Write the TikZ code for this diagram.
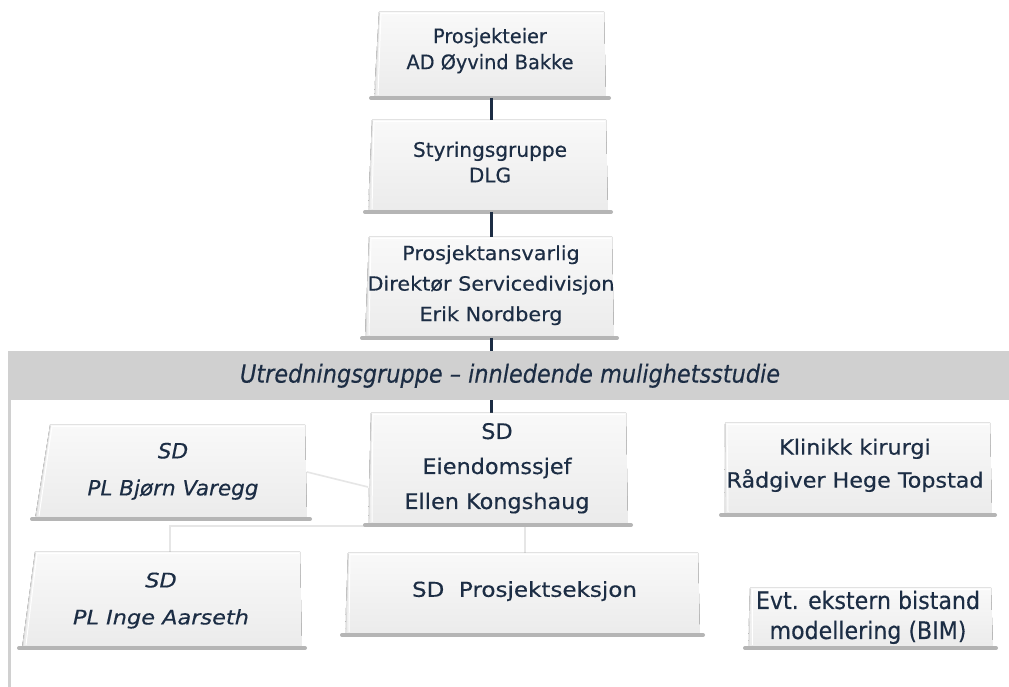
\documentclass[tikz,border=0pt]{standalone}
\usepackage{fontspec}
\usepackage{graphicx}
\setmainfont[FakeBold=0.4]{DejaVu Sans}
\usetikzlibrary{calc}
\definecolor{txt}{HTML}{1C2D44}
\definecolor{bandc}{HTML}{D0D0D0}
\definecolor{boxa}{HTML}{F9F9F9}
\definecolor{boxb}{HTML}{EBEBEB}
\definecolor{shad}{HTML}{B5B5B5}
\definecolor{faint}{HTML}{E6E6E6}
\definecolor{edgec}{HTML}{D8D8D8}
% name, cx, cy, w, h, slant
\newcommand\orgbox[6]{%
  \node[boxnode, minimum width=#4pt, minimum height=#5pt] (#1) at (#2,#3) {};
  \fill[top color=boxa, bottom color=boxb] (#1.south west) -- ($(#1.north west)+(#6,0)$) -- ($(#1.north east)+(-2,0)$) -- (#1.south east) -- cycle;
  \draw[edgec, line width=0.8pt] ($(#1.south west)+(1,2)$) -- ($(#1.north west)+(#6+0.5,-0.5)$);
  \draw[white, line width=1pt] ($(#1.south west)+(4,3)$) -- ($(#1.north west)+(#6+2,-1.5)$) -- ($(#1.north east)+(-3,-1.5)$);
  \draw[shad, line width=4pt, line cap=round] ($(#1.south west)+(-3,0)$) -- ($(#1.south east)+(3,0)$);
}
% width, font setup, lines
\newcommand\fitw[3]{\resizebox{#1}{\height}{#2\begin{tabular}{@{}c@{}}#3\end{tabular}}}
\begin{document}
\begin{tikzpicture}[x=1pt,y=1pt,
  boxnode/.style={inner sep=0pt, outer sep=0pt},
  label/.style={inner sep=0pt, align=center, text=txt},
  link/.style={draw=txt, line width=3pt},
  faintlink/.style={draw=faint, line width=1.6pt}]
\useasboundingbox (0,0) rectangle (1009,687);
\fill[white] (0,0) rectangle (1009,687);
\coordinate (spine) at (491,0);
% band
\node[fill=bandc, minimum width=1001pt, minimum height=49pt, inner sep=0pt] (band) at (508.5,311.5) {};
\coordinate (lft) at (9.5,0);
\draw[bandc, line width=3pt] (band.south west -| lft) -- (lft);
\node[label] (bandt) at (510,310) {\fitw{540pt}{\fontsize{25}{28}\selectfont\itshape}{Utredningsgruppe -- innledende mulighetsstudie}};
\coordinate (fa) at (170,161);
\coordinate (fb) at (525,161);
% boxes
\orgbox{n1}{490}{632}{232}{86}{5}
\orgbox{n2}{488}{521}{240}{92}{4}
\orgbox{n3}{489.5}{399.5}{249}{101}{4}
\draw[link] (n1.south -| spine) -- (n2.north -| spine);
\draw[link] (n2.south -| spine) -- (n3.north -| spine);
\draw[link] (n3.south -| spine) -- (band.north -| spine);
\node[boxnode, minimum width=272pt, minimum height=94pt] (n4) at (171,215) {};
\node[boxnode, minimum width=260pt, minimum height=112pt] (n5) at (498,218) {};
\node[boxnode, minimum width=280pt, minimum height=96pt] (n7) at (162,87) {};
\node[boxnode, minimum width=355pt, minimum height=82pt] (n8) at (522.5,93) {};
\draw[link] (band.south -| spine) -- (n5.north -| spine);
\draw[faintlink] (n4.east) -- ([yshift=-18pt]n5.west);
\draw[faintlink] (n7.north -| fa) -- (fa) -- (fb) -- (n8.north -| fb);
\orgbox{n4}{171}{215}{272}{94}{15}
\orgbox{n5}{498}{218}{260}{112}{3}
\orgbox{n6}{858}{218}{268}{92}{1}
\orgbox{n7}{162}{87}{280}{96}{13}
\orgbox{n8}{522.5}{93}{355}{82}{3}
\orgbox{n9}{870.5}{69}{245}{60}{2}
% labels
\node[label] (n1t) at (490,636) {\fitw{167pt}{\fontsize{20}{26}\selectfont}{Prosjekteier\\AD Øyvind Bakke}};
\node[label] (n2t) at (490,522.5) {\fitw{154pt}{\fontsize{20}{25.5}\selectfont}{Styringsgruppe\\DLG}};
\node[label] (n3t) at (491,402.5) {\fitw{247pt}{\fontsize{19.5}{30.5}\selectfont}{Prosjektansvarlig\\Direktør Servicedivisjon\\Erik Nordberg}};
\node[label] (n4t) at (173,217.5) {\fitw{171pt}{\fontsize{21}{37}\selectfont\itshape}{SD\\PL Bjørn Varegg}};
\node[label] (n5t) at (497,220) {\fitw{185pt}{\fontsize{21.5}{35}\selectfont}{SD\\Eiendomssjef\\Ellen Kongshaug}};
\node[label] (n6t) at (855,222.5) {\fitw{257pt}{\fontsize{21}{33}\selectfont}{Klinikk kirurgi\\Rådgiver Hege Topstad}};
\node[label] (n7t) at (161,88.5) {\fitw{176pt}{\fontsize{20}{37}\selectfont\itshape}{SD\\PL Inge Aarseth}};
\node[label] (n8t) at (524.5,95) {\fitw{225pt}{\fontsize{20.5}{24}\selectfont}{SD\ \ Prosjektseksjon}};
\node[label] (n9t) at (868,69) {\fitw{224pt}{\fontsize{24}{30}\selectfont}{Evt. ekstern bistand\\modellering (BIM)}};
\end{tikzpicture}
\end{document}
